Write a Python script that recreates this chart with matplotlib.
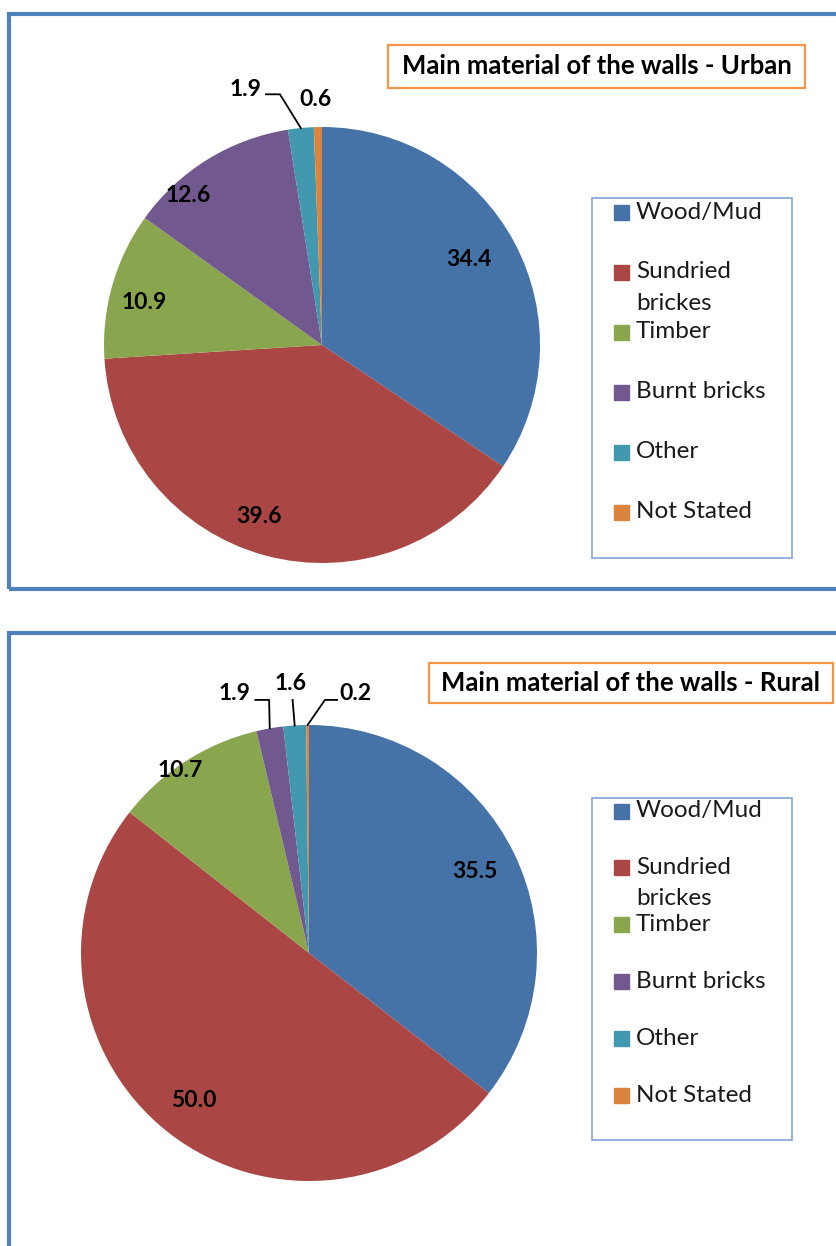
import numpy as np
import matplotlib
matplotlib.use('Agg')
import matplotlib.pyplot as plt
from matplotlib.patches import Rectangle

plt.rcParams['font.family'] = ['Lato', 'DejaVu Sans']

# data
categories = ['Wood/Mud', 'Sundried\nbrickes', 'Timber', 'Burnt bricks', 'Other', 'Not Stated']
urban = [34.4, 39.6, 10.9, 12.6, 1.9, 0.6]
rural = [35.5, 50.0, 10.7, 1.9, 1.6, 0.2]
titles = ['Main material of the walls - Urban', 'Main material of the walls - Rural']

colors = ['#4572A7', '#AA4643', '#89A54E', '#71588F', '#4198AF', '#DB843D']

W, H = 837, 1246
fig = plt.figure(figsize=(W / 100, H / 100), dpi=100)


def fbox(x0, y0, x1, y1):
    # pixel box (top-left origin) -> figure fraction rect
    return [x0 / W, 1 - y1 / H, (x1 - x0) / W, (y1 - y0) / H]


def frame(x0, y0, x1, y1, ec, lw):
    l, b, w, h = fbox(x0, y0, x1, y1)
    fig.add_artist(Rectangle((l, b), w, h, transform=fig.transFigure,
                             fill=False, ec=ec, lw=lw, clip_on=False))


# blue panel borders
frame(9, 14, 860, 589, '#4F81BD', 3)
frame(9, 633, 860, 1270, '#4F81BD', 3)

# label placement (style): inner -> radial distance + angle shift,
# outer -> text pos + leader points
urban_lbl = [('in', 0.78, 2), ('in', 0.84, -5), ('in', 0.84, 2.5), ('in', 0.92, 10),
             ('out', (-0.28, 1.17, 'right'), [(-0.257, 1.15), (-0.193, 1.15)]),
             ('out', (-0.03, 1.125, 'center'), None)]
rural_lbl = [('in', 0.81, 0), ('in', 0.82, 0), ('in', 0.98, 2.5),
             ('out', (-0.255, 1.14, 'right'), [(-0.235, 1.11), (-0.175, 1.11)]),
             ('out', (-0.08, 1.18, 'center'), [(-0.072, 1.11)]),
             ('out', (0.135, 1.14, 'left'), [(0.123, 1.11), (0.07, 1.11)])]

lbl_font = dict(fontsize=16.5, fontweight='bold', color='black')


def pie_panel(cx, cy, r, values, lbl):
    ax = fig.add_axes(fbox(cx - r, cy - r, cx + r, cy + r))
    wedges, _ = ax.pie(values, colors=colors, startangle=90, counterclock=False,
                       radius=1, wedgeprops=dict(linewidth=0))
    ax.set_xlim(-1, 1)
    ax.set_ylim(-1, 1)
    for w, v, spec in zip(wedges, values, lbl):
        mid = (w.theta1 + w.theta2) / 2
        th = np.deg2rad(mid)
        txt = '%.1f' % v
        if spec[0] == 'in':
            d = spec[1]
            ta = np.deg2rad(mid + spec[2])
            ax.text(d * np.cos(ta), d * np.sin(ta), txt, ha='center', va='center',
                    **lbl_font)
        else:
            tx, ty, ha = spec[1]
            ax.text(tx, ty, txt, ha=ha, va='center', clip_on=False, **lbl_font)
            if spec[2]:
                pts = spec[2] + [(np.cos(th), np.sin(th))]
                xs, ys = zip(*pts)
                ax.plot(xs, ys, color='black', lw=1.3, clip_on=False)
    return ax


def legend_box(x0, y0, x1, y1, first, step):
    ax = fig.add_axes(fbox(x0, y0, x1, y1))
    ax.set_xlim(0, x1 - x0)
    ax.set_ylim(y1 - y0, 0)
    ax.axis('off')
    ax.add_patch(Rectangle((0, 0), x1 - x0, y1 - y0, fill=False, ec='#8EACD8',
                           lw=1.3, clip_on=False))
    for i, (name, c) in enumerate(zip(categories, colors)):
        y = first + i * step
        ax.add_patch(Rectangle((22, y - 7.5), 15, 15, color=c))
        for k, line in enumerate(name.split('\n')):
            ax.text(44, y + k * 31, line, ha='left', va='center',
                    fontsize=17.5, color='#1a1a1a')


def title_box(x0, y0, x1, y1, text):
    frame(x0, y0, x1, y1, '#F79646', 1.6)
    l, b, w, h = fbox(x0, y0, x1, y1)
    fig.text(l + w / 2, b + h / 2, text, ha='center', va='center',
             fontsize=18.5, fontweight='bold', color='black')


pie_panel(322, 345, 218, urban, urban_lbl)
legend_box(592, 198, 792, 558, 14, 60)
title_box(388, 45, 805, 88, titles[0])

pie_panel(309, 953, 228, rural, rural_lbl)
legend_box(592, 798, 792, 1140, 13, 56.8)
title_box(429, 663, 833, 703, titles[1])

fig.savefig('out.png', dpi=100, facecolor='white')
